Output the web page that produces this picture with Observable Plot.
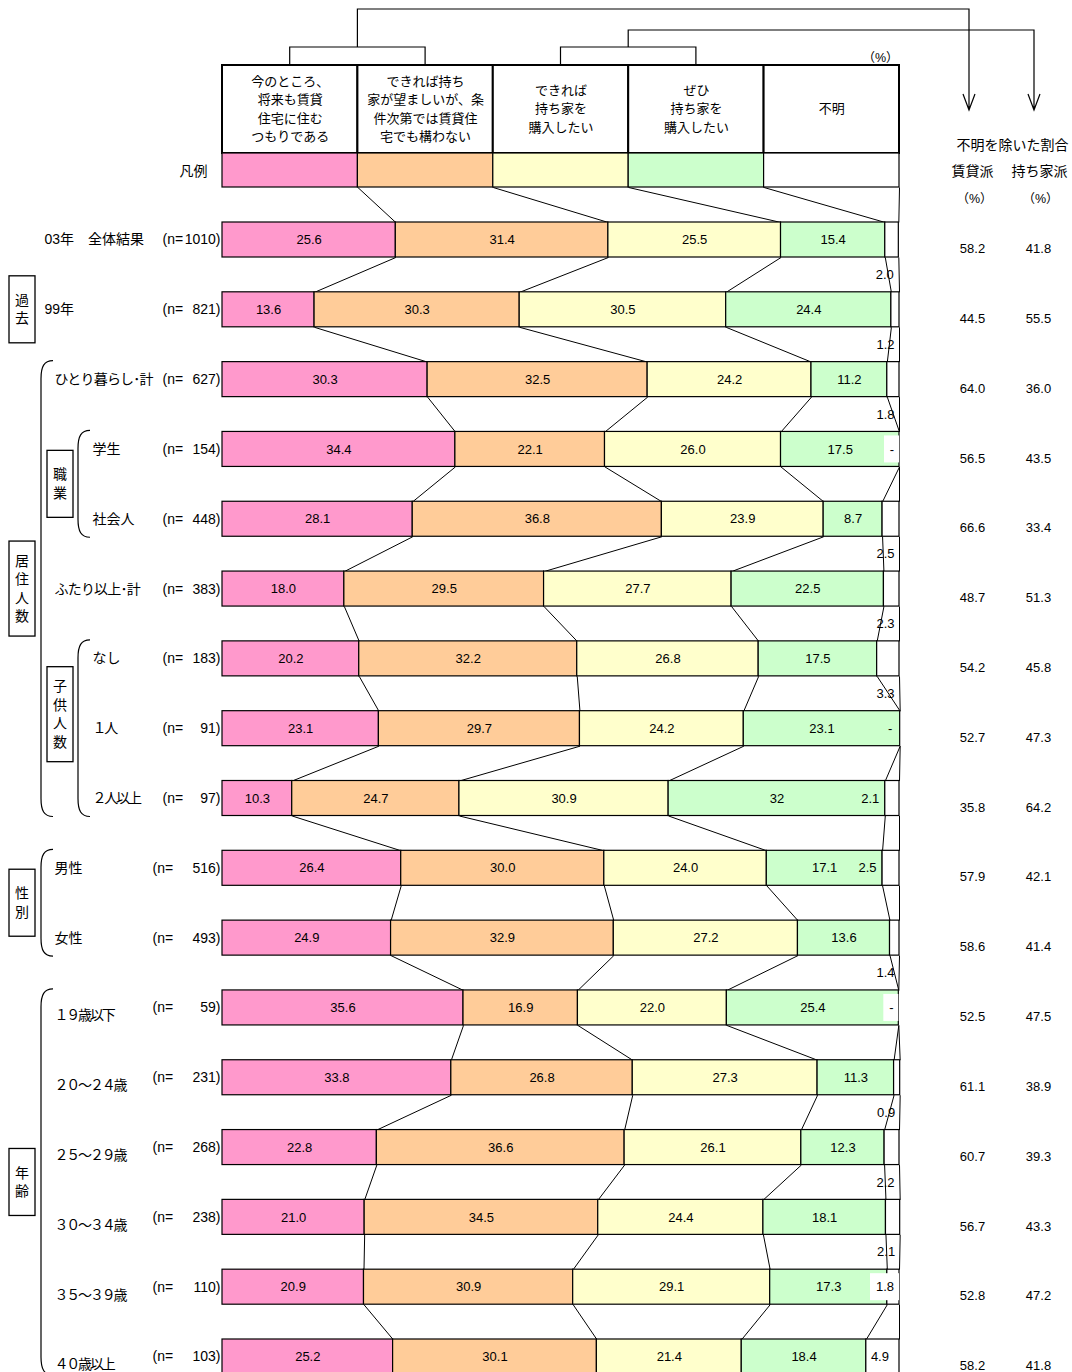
<!DOCTYPE html>
<html><head><meta charset="utf-8">
<script src="https://cdn.jsdelivr.net/npm/d3@7"></script>
<script src="https://cdn.jsdelivr.net/npm/@observablehq/plot@0.6"></script>
<style>
html,body{margin:0;padding:0;background:#fff;}
#chart svg{display:block;}
</style></head>
<body><div id="chart"></div>
<script>
// ---------------- DATA ----------------
const rowLabels = ["03年　全体結果","99年","ひとり暮らし･計","学生","社会人","ふたり以上･計","なし","１人","２人以上","男性","女性","１９歳以下","２０～２４歳","２５～２９歳","３０～３４歳","３５～３９歳","４０歳以上"];
const rowDepth = [0,0,1,2,2,1,2,2,2,1,1,1,1,1,1,1,1];
const sampleSizes = [1010,821,627,154,448,383,183,91,97,516,493,59,231,268,238,110,103];
const seriesKeys = ["今のところ、将来も賃貸住宅に住むつもりである","できれば持ち家が望ましいが、条件次第では賃貸住宅でも構わない","できれば持ち家を購入したい","ぜひ持ち家を購入したい","不明"];
const seriesHeaders = ["今のところ、\n将来も賃貸\n住宅に住む\nつもりである","できれば持ち\n家が望ましいが、条\n件次第では賃貸住\n宅でも構わない","できれば\n持ち家を\n購入したい","ぜひ\n持ち家を\n購入したい","不明"];
const seriesColors = ["#FF99CC","#FFCC99","#FFFFCC","#CCFFCC","#FFFFFF"];
const rentNow       = [25.6,13.6,30.3,34.4,28.1,18.0,20.2,23.1,10.3,26.4,24.9,35.6,33.8,22.8,21.0,20.9,25.2];
const rentOk        = [31.4,30.3,32.5,22.1,36.8,29.5,32.2,29.7,24.7,30.0,32.9,16.9,26.8,36.6,34.5,30.9,30.1];
const buyIfPossible = [25.5,30.5,24.2,26.0,23.9,27.7,26.8,24.2,30.9,24.0,27.2,22.0,27.3,26.1,24.4,29.1,21.4];
const buyDefinitely = [15.4,24.4,11.2,17.5,8.7,22.5,17.5,23.1,32.0,17.1,13.6,25.4,11.3,12.3,18.1,17.3,18.4];
const unknown       = [2.0,1.2,1.8,null,2.5,2.3,3.3,null,2.1,2.5,1.4,null,0.9,2.2,2.1,1.8,4.9];
const rentShare     = [58.2,44.5,64.0,56.5,66.6,48.7,54.2,52.7,35.8,57.9,58.6,52.5,61.1,60.7,56.7,52.8,58.2];
const ownShare      = [41.8,55.5,36.0,43.5,33.4,51.3,45.8,47.3,64.2,42.1,41.4,47.5,38.9,39.3,43.3,47.2,41.8];
const valueLabelOverrides = [{row: 8, series: 3, text: "32"}];
const groups = [
  {name: "過去", first: 1, last: 1, level: 0, brace: false},
  {name: "居住人数", first: 2, last: 8, level: 0, brace: true},
  {name: "職業", first: 3, last: 4, level: 1, brace: true},
  {name: "子供人数", first: 6, last: 8, level: 1, brace: true, shift: -14},
  {name: "性別", first: 9, last: 10, level: 0, brace: true},
  {name: "年齢", first: 11, last: 16, level: 0, brace: true}
];
// placement of the small 「不明」 value labels
const unknownLabelMode = ["below","below","below","dashbox","below","below","below","dash","inside","inside","below","dashbox","below","below","below","box","segment"];

// ---------------- LAYOUT ----------------
const FONT = "'Liberation Sans','Noto Sans CJK JP',sans-serif";
const W = 1072, H = 1372;
const xRange = [222, 899], yRange = [239.5, 1356.5];
const xs = d3.scaleLinear([0, 100], xRange);
const ys = d3.scaleLinear([0, rowLabels.length - 1], yRange);
const unit = ys(1) - ys(0);
const HB = 17.5 / unit;              // half bar height in row units
const Y = p => ys.invert(p);          // pixel -> row units (layout only)
const X = p => xs.invert(p);          // pixel -> percent units (layout only)
const headerTop = 65, legendTop = 153, legendBottom = 187;
const fmt = v => v.toFixed(1);

const seriesValues = [rentNow, rentOk, buyIfPossible, buyDefinitely, unknown];
const rows = rowLabels.map((label, i) => ({i, label, n: sampleSizes[i], depth: rowDepth[i]}));
const segments = [];
const bounds = [];
rows.forEach(r => {
  let cum = 0; const b = [];
  seriesValues.forEach((vals, k) => {
    const v = vals[r.i];
    if (v != null) {
      const ov = valueLabelOverrides.find(o => o.row === r.i && o.series === k);
      segments.push({row: r.i, k, series: seriesKeys[k], x1: cum, x2: cum + v, v, text: ov ? ov.text : fmt(v)});
      cum += v;
    }
    b.push(cum);
  });
  bounds.push(b);
});

const links = [];
for (let k = 0; k < 5; k++) {
  links.push({x1: (k + 1) * 20, y1: Y(legendBottom), x2: bounds[0][k], y2: -HB});
  for (let i = 0; i < rows.length - 1; i++) {
    links.push({x1: bounds[i][k], y1: i + HB, x2: bounds[i + 1][k], y2: i + 1 - HB});
  }
}

const ulabels = [], uboxes = [];
rows.forEach(r => {
  const i = r.i, v = unknown[i], mode = unknownLabelMode[i];
  const end = bounds[i][4], gEnd = bounds[i][3];
  const text = v == null ? "-" : fmt(v);
  if (mode === "below") ulabels.push({x: X(xs(end) - 5), y: i + 0.5, text, anchor: "end"});
  else if (mode === "inside") ulabels.push({x: X(xs(gEnd) - 6), y: i, text, anchor: "end"});
  else if (mode === "segment") ulabels.push({x: X((xs(gEnd) + xs(end)) / 2 - 3), y: i, text, anchor: "middle"});
  else if (mode === "dash") ulabels.push({x: X(xs(end) - 10), y: i, text, anchor: "middle"});
  else if (mode === "box" || mode === "dashbox") {
    const w = mode === "box" ? 29 : 15;
    const x1 = X(xs(end) - w);
    uboxes.push({x1, x2: end, y1: i - 13.5 / unit, y2: i + 13.5 / unit});
    ulabels.push({x: (x1 + end) / 2, y: i, text, anchor: "middle"});
  }
});

const header = seriesKeys.map((s, k) => ({k, s, text: seriesHeaders[k]}));
const nPrefixPx = i => i >= 9 ? 152 : 162;
const indentPx = [44, 54, 92];
const labelDy = i => i >= 11 ? 8 : 0;

const plot = Plot.plot({
  width: W, height: H,
  marginTop: 0, marginRight: 0, marginBottom: 0, marginLeft: 0,
  x: {domain: [0, 100], range: xRange, axis: null},
  y: {domain: [0, rowLabels.length - 1], range: yRange, axis: null},
  color: {domain: seriesKeys, range: seriesColors},
  style: {fontFamily: FONT, fontSize: "13px", color: "#000", background: "#fff", overflow: "visible"},
  marks: [
    // header boxes
    Plot.rect(header, {x1: d => d.k * 20, x2: d => (d.k + 1) * 20, y1: () => Y(headerTop), y2: () => Y(legendTop), fill: "#fff", stroke: "#000", strokeWidth: 2}),
    Plot.text(header, {x: d => d.k * 20 + 10, y: () => Y(107), text: "text", fontSize: 13, lineHeight: 1.41, lineAnchor: "middle"}),
    // legend row
    Plot.rect(header, {x1: d => d.k * 20, x2: d => (d.k + 1) * 20, y1: () => Y(legendTop), y2: () => Y(legendBottom), fill: "s", stroke: "#000", strokeWidth: 1.2}),
    Plot.text(["凡例"], {x: () => X(207), y: () => Y(171), text: d => d, textAnchor: "end", fontSize: 14}),
    // connectors
    Plot.link(links, {x1: "x1", y1: "y1", x2: "x2", y2: "y2", stroke: "#000", strokeWidth: 1}),
    // bars
    Plot.rect(segments, {x1: "x1", x2: "x2", y1: d => d.row - HB, y2: d => d.row + HB, fill: "series", stroke: "#000", strokeWidth: 1.2}),
    Plot.text(segments.filter(d => d.k < 4), {x: d => (d.x1 + d.x2) / 2, y: "row", text: "text", fontSize: 13}),
    Plot.rect(uboxes, {x1: "x1", x2: "x2", y1: "y1", y2: "y2", fill: "#fff"}),
    Plot.text(ulabels.filter(d => d.anchor === "end"), {x: "x", y: "y", text: "text", textAnchor: "end", fontSize: 13}),
    Plot.text(ulabels.filter(d => d.anchor === "middle"), {x: "x", y: "y", text: "text", textAnchor: "middle", fontSize: 13}),
    // row labels
    Plot.text(rows, {x: d => X(indentPx[d.depth]), y: d => d.i + labelDy(d.i) / unit, text: "label", textAnchor: "start", fontSize: 14}),
    Plot.text(rows, {x: d => X(nPrefixPx(d.i)), y: "i", text: () => "(n=", textAnchor: "start", fontSize: 14}),
    Plot.text(rows, {x: () => X(220), y: "i", text: d => `${d.n})`, textAnchor: "end", fontSize: 14}),
    // right columns
    Plot.text(rows, {x: () => X(972), y: "i", text: d => fmt(rentShare[d.i]), dy: 9, fontSize: 13}),
    Plot.text(rows, {x: () => X(1038), y: "i", text: d => fmt(ownShare[d.i]), dy: 9, fontSize: 13}),
    Plot.text(["不明を除いた割合"], {x: () => X(1012), y: () => Y(145), text: d => d, fontSize: 14}),
    Plot.text(["賃貸派"], {x: () => X(972), y: () => Y(171), text: d => d, fontSize: 14}),
    Plot.text(["持ち家派"], {x: () => X(1039), y: () => Y(171), text: d => d, fontSize: 14}),
    Plot.text(["（%）", "（%）", "（%）"], {x: (d, j) => X([974, 1040, 880][j]), y: (d, j) => Y(j < 2 ? 198 : 57), text: d => d, fontSize: 12.5})
  ]
});
document.getElementById("chart").appendChild(plot);
const svg = d3.select(plot);

// tighter spacing for full-width digits and kana labels
svg.selectAll("text").each(function() {
  const t = this.textContent;
  if (/^[０-９]/.test(t)) d3.select(this).attr("letter-spacing", "-2.2px");
  else if (/[ぁ-ん]/.test(t) && /･/.test(t)) d3.select(this).attr("letter-spacing", "-0.8px");
});

// decorations: brackets with arrows, group boxes and braces
const deco = svg.append("g").attr("fill", "none").attr("stroke", "#000").attr("stroke-width", 1.2);
const colC = k => xs(k * 20 + 10), colE = k => xs(k * 20);
const bracketY = 47, arrowTip = 110, arrowX = [969, 1034], topLineY = [9, 30];
[[0, 1], [2, 3]].forEach(([a, b], j) => {
  const mid = colE(b);
  deco.append("path").attr("d",
    `M${colC(a)},${headerTop}V${bracketY}H${colC(b)}V${headerTop}` +
    `M${mid},${bracketY}V${topLineY[j]}H${arrowX[j]}V${arrowTip}` +
    `M${arrowX[j] - 6},${arrowTip - 16}L${arrowX[j]},${arrowTip}L${arrowX[j] + 6},${arrowTip - 16}`);
});

const gdeco = svg.append("g").attr("font-family", FONT).attr("font-size", 14);
groups.forEach(g => {
  const top = ys(g.first) - 17.5 - 1, bottom = ys(g.last) + 17.5 + 1;
  const spine = g.level === 0 ? 41 : 78, tip = g.level === 0 ? 53 : 90;
  if (g.brace) {
    gdeco.append("path").attr("fill", "none").attr("stroke", "#000").attr("stroke-width", 1.2)
      .attr("d", `M${tip},${top}C${spine + 3},${top} ${spine},${top + 6} ${spine},${top + 18}L${spine},${bottom - 18}C${spine},${bottom - 6} ${spine + 3},${bottom} ${tip},${bottom}`);
  }
  const chars = [...g.name];
  const cy = (ys(g.first) + ys(g.last)) / 2 + (g.shift || 0);
  const bx = g.level === 0 ? 9 : 47, bw = 26, bh = 14 * chars.length + 39;
  gdeco.append("rect").attr("x", bx).attr("y", cy - bh / 2).attr("width", bw).attr("height", bh)
    .attr("fill", "#fff").attr("stroke", "#000").attr("stroke-width", 1.3);
  chars.forEach((ch, j) => {
    gdeco.append("text").attr("x", bx + bw / 2).attr("y", cy + (j - (chars.length - 1) / 2) * 18.5)
      .attr("text-anchor", "middle").attr("dy", "0.35em").attr("fill", "#000").text(ch);
  });
});
</script>
</body></html>
